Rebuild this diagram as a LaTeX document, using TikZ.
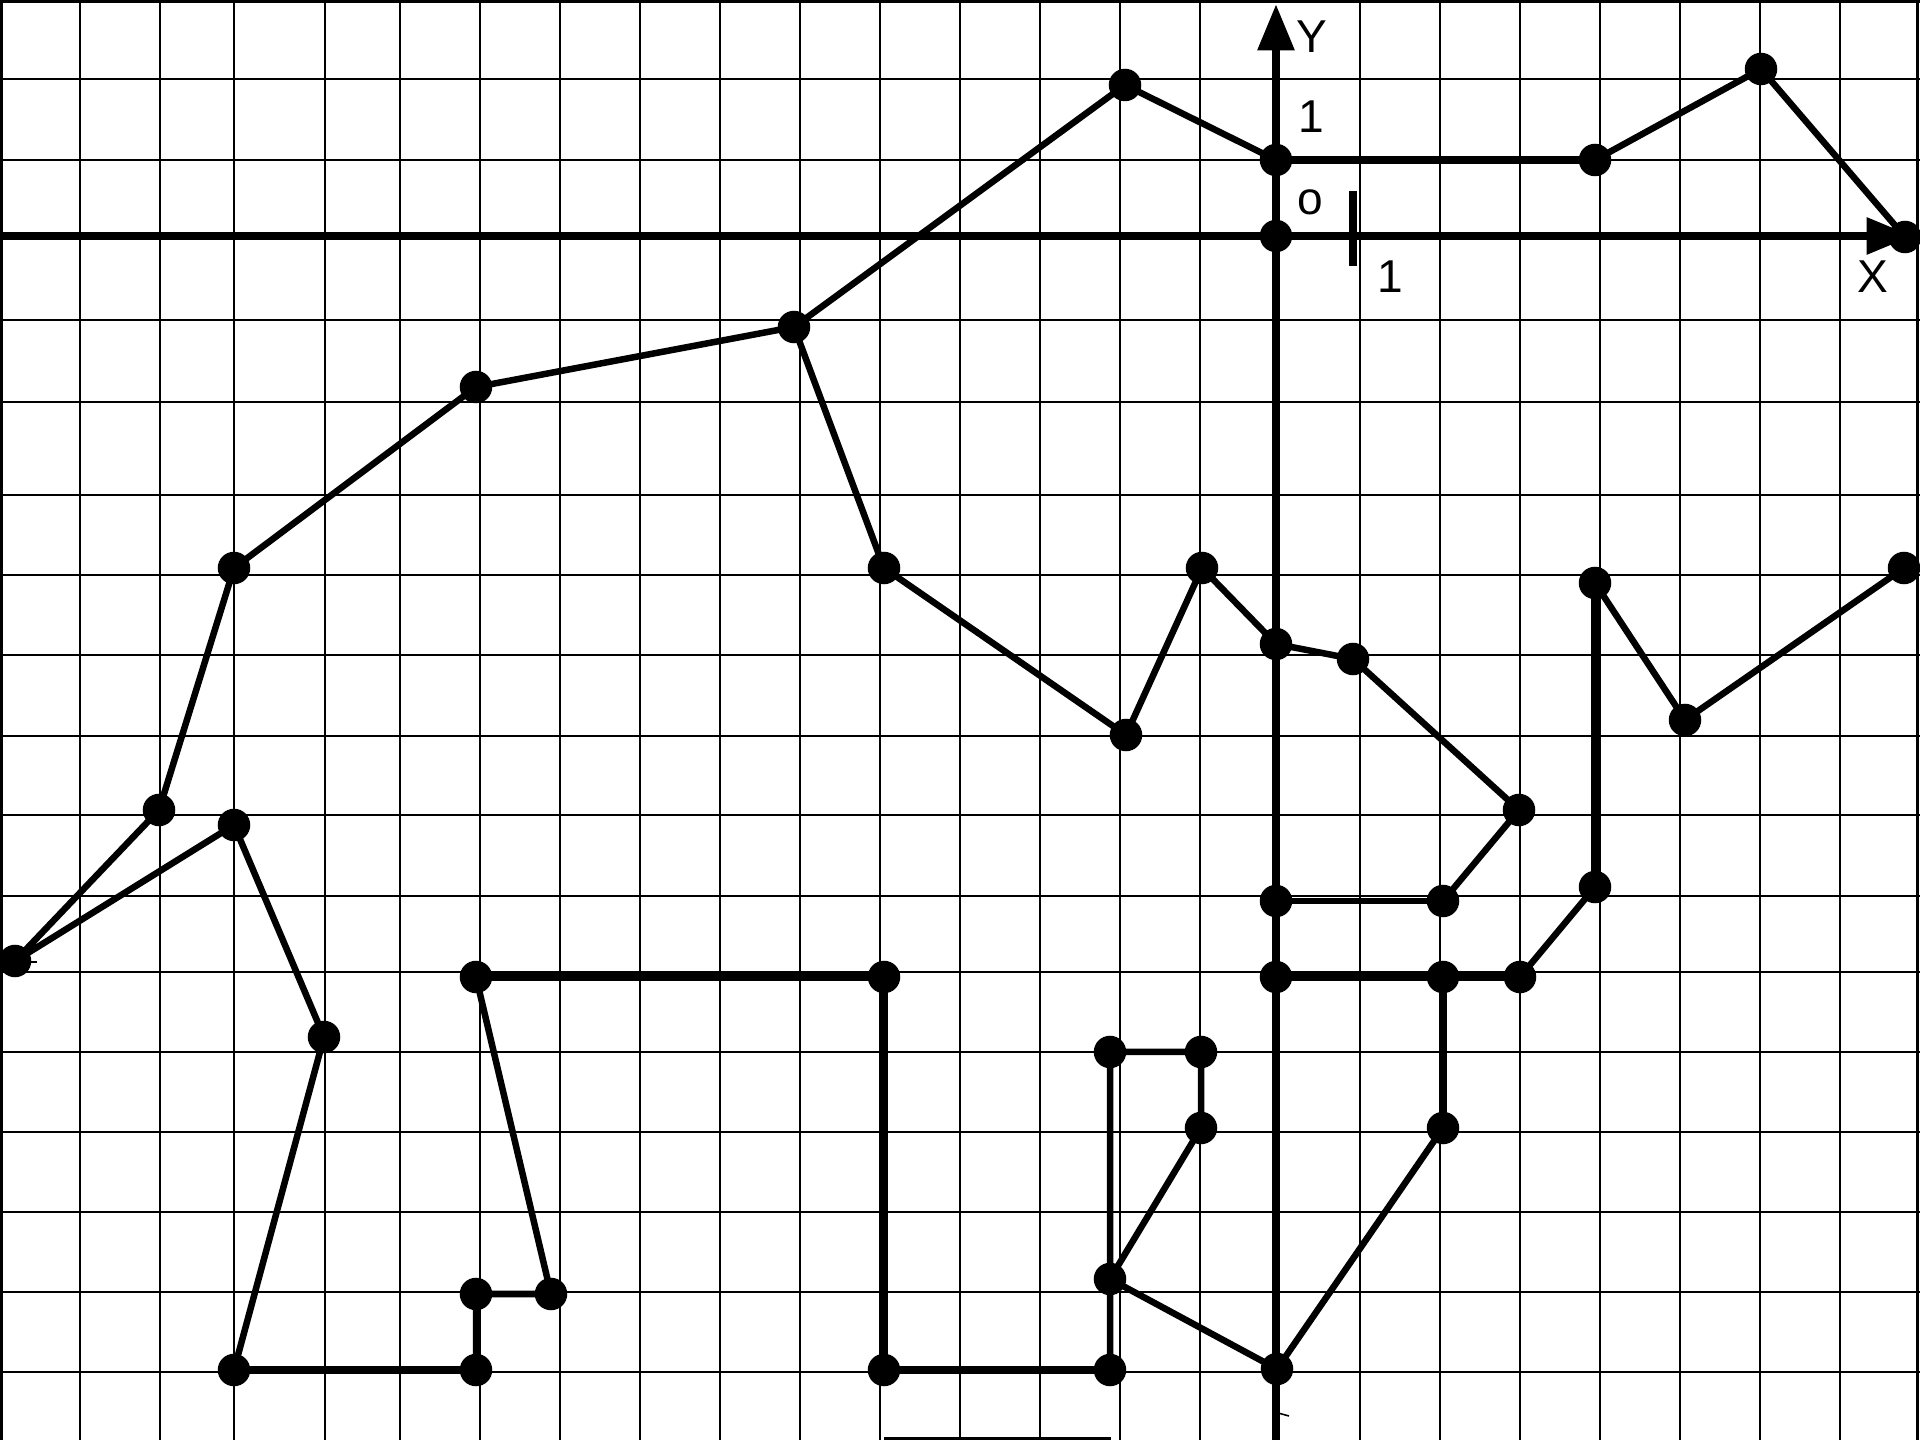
\documentclass[tikz,border=0pt]{standalone}
\usepackage{fontspec}
\setmainfont{Liberation Sans}
\usetikzlibrary{arrows.meta,backgrounds}
\begin{document}
\begin{tikzpicture}[x=0.01cm,y=-0.01cm,
  gridline/.style={line width=0.75pt},
  frameline/.style={line width=0.9pt},
  edge/.style={line width=1.85pt,line join=round},
  thickedge/.style={line width=2.4pt,line join=round},
  axisline/.style={line width=2.45pt,-{Triangle[length=13.2pt,width=10pt]}},
  tickline/.style={line width=2.1pt},
  fineline/.style={line width=0.45pt},
  dot/.style={circle,fill=black,inner sep=0pt,minimum size=0.325cm},
  lbl/.style={inner sep=0pt,font=\fontsize{13.1pt}{15pt}\selectfont}]
\useasboundingbox (0,0) rectangle (1920,1440);

% ---------- dots ----------
\node[dot] (p1) at (1125,85) {};
\node[dot] (p2) at (1276,160) {};
\node[dot] (p3) at (1276,236) {};
\node[dot] (p4) at (1595,160) {};
\node[dot] (p5) at (1761,69) {};
\node[dot] (p6) at (1905,237) {};
\node[dot] (p7) at (794,327) {};
\node[dot] (p8) at (476,387) {};
\node[dot] (p9) at (234,568) {};
\node[dot] (p10) at (884,568) {};
\node[dot] (p11) at (1126,735) {};
\node[dot] (p12) at (1202,568) {};
\node[dot] (p13) at (1276,644) {};
\node[dot] (p14) at (1353,659) {};
\node[dot] (p15) at (1519,810) {};
\node[dot] (p16) at (1443,901) {};
\node[dot] (p17) at (1276,901) {};
\node[dot] (p18) at (1595,583) {};
\node[dot] (p19) at (1685,720) {};
\node[dot] (p20) at (1904,568) {};
\node[dot] (p21) at (1595,887) {};
\node[dot] (p22) at (1520,977) {};
\node[dot] (p23) at (1443,977) {};
\node[dot] (p24) at (1276,977) {};
\node[dot] (p25) at (1443,1128) {};
\node[dot] (p26) at (1277,1369) {};
\node[dot] (p27) at (1110,1279) {};
\node[dot] (p28) at (1201,1128) {};
\node[dot] (p29) at (1201,1052) {};
\node[dot] (p30) at (1110,1052) {};
\node[dot] (p31) at (1110,1370) {};
\node[dot] (p32) at (884,1370) {};
\node[dot] (p33) at (884,977) {};
\node[dot] (p34) at (476,977) {};
\node[dot] (p35) at (551,1294) {};
\node[dot] (p36) at (476,1294) {};
\node[dot] (p37) at (476,1370) {};
\node[dot] (p38) at (234,1370) {};
\node[dot] (p39) at (324,1037) {};
\node[dot] (p40) at (234,825) {};
\node[dot] (p41) at (159,810) {};
\node[dot] (p42) at (15,961) {};

% ---------- labels ----------
\node[lbl] (ylab) at (1312,37) {Y};
\node[lbl] (yone) at (1311,117) {1};
\node[lbl] (orig) at (1310,202) {o};
\node[lbl] (xone) at (1390,277) {1};
\node[lbl] (xlab) at (1873,277) {X};

% ---------- helper coordinates ----------
\coordinate (ybot) at (1276,1440);
\coordinate (ytop) at (1276,4);
\coordinate (xleft) at (0,236);
\coordinate (xright) at (1913,236);
\coordinate (tk1) at (1353,191);
\coordinate (tk2) at (1353,266);
\coordinate (bs1) at (884,1438.5);
\coordinate (bs2) at (1111,1438.5);
\coordinate (m1a) at (30,962);
\coordinate (m1b) at (37,962);
\coordinate (m2a) at (1278,1413);
\coordinate (m2b) at (1289,1416);

\begin{pgfonlayer}{background}
% grid
\foreach \gx in {80,160,234,325,400,480,560,640,720,800,880,960,1040,1120,1200,1360,1440,1520,1600,1680,1760,1840}
  \draw[gridline] (\gx,0) -- (\gx,1440);
\foreach \gy in {79,160,320,402,495,575,655,736,815,896,972,1052,1132,1212,1292,1372}
  \draw[gridline] (0,\gy) -- (1920,\gy);
% frame
\draw[frameline] (0,1.6) -- (1920,1.6);
\draw[frameline] (1.6,0) -- (1.6,1440);
\draw[frameline] (1917.5,0) -- (1917.5,1440);
\draw[gridline] (bs1) -- (bs2);
\draw[fineline] (m1a) -- (m1b);
\draw[fineline] (m2a) -- (m2b);

% axes
\draw[axisline] (ybot) -- (ytop);
\draw[axisline] (xleft) -- (xright);
\draw[tickline] (tk1) -- (tk2);

% upper chain
\draw[edge] (p8.center) -- (p7.center) -- (p1.center) -- (p2.center);
\draw[thickedge] (p2.center) -- (p4.center);
\draw[edge] (p4.center) -- (p5.center) -- (p6.center);

% left chain
\draw[edge] (p8.center) -- (p9.center) -- (p41.center) -- (p42.center) -- (p40.center) -- (p39.center) -- (p38.center);
\draw[thickedge] (p38.center) -- (p37.center);
\draw[edge] (p37.center) -- (p36.center) -- (p35.center) -- (p34.center);
\draw[thickedge] (p34.center) -- (p33.center) -- (p32.center) -- (p31.center);
\draw[edge] (p31.center) -- (p30.center) -- (p29.center) -- (p28.center) -- (p27.center) -- (p26.center) -- (p25.center);
\draw[thickedge] (p25.center) -- (p23.center);
\draw[thickedge] (p24.center) -- (p23.center) -- (p22.center);
\draw[edge] (p22.center) -- (p21.center);
\draw[thickedge] (p21.center) -- (p18.center);
\draw[edge] (p18.center) -- (p19.center) -- (p20.center);

% middle chain
\draw[edge] (p7.center) -- (p10.center) -- (p11.center) -- (p12.center) -- (p13.center) -- (p14.center) -- (p15.center) -- (p16.center);
\draw[edge] (p16.center) -- (p17.center);
\end{pgfonlayer}
\end{tikzpicture}
\end{document}
